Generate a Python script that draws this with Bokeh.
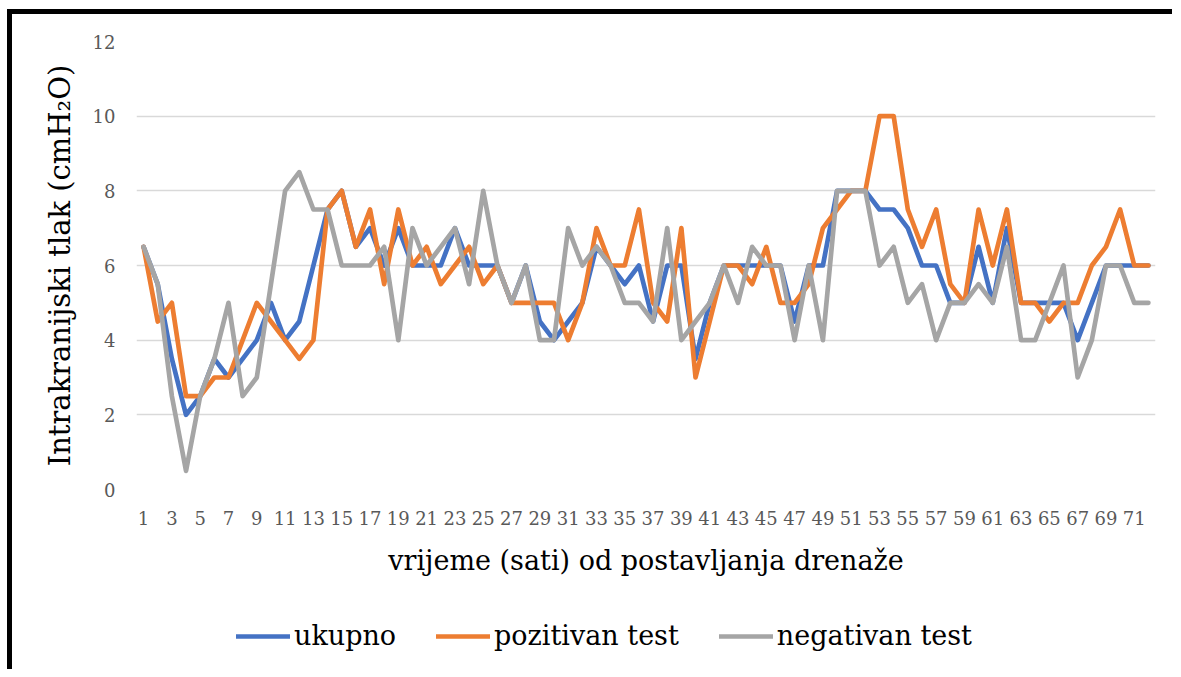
from bokeh.plotting import figure
from bokeh.models import Range1d, FixedTicker, Legend, LegendItem
from bokeh.layouts import column
from bokeh.embed import file_html
from bokeh.resources import INLINE

hours = list(range(1, 73))
ukupno = [6.5, 5.5, 3.5, 2, 2.5, 3.5, 3, 3.5, 4, 5, 4, 4.5, 6, 7.5, 8, 6.5, 7, 6, 7, 6,
          6, 6, 7, 6, 6, 6, 5, 6, 4.5, 4, 4.5, 5, 6.5, 6, 5.5, 6, 4.5, 6, 6, 3.5,
          5, 6, 6, 6, 6, 6, 4.5, 6, 6, 8, 8, 8, 7.5, 7.5, 7, 6, 6, 5, 5, 6.5,
          5, 7, 5, 5, 5, 5, 4, 5, 6, 6, 6, 6]
pozitivan = [6.5, 4.5, 5, 2.5, 2.5, 3, 3, 4, 5, 4.5, 4, 3.5, 4, 7.5, 8, 6.5, 7.5, 5.5, 7.5, 6,
             6.5, 5.5, 6, 6.5, 5.5, 6, 5, 5, 5, 5, 4, 5, 7, 6, 6, 7.5, 5, 4.5, 7, 3,
             4.5, 6, 6, 5.5, 6.5, 5, 5, 5.5, 7, 7.5, 8, 8, 10, 10, 7.5, 6.5, 7.5, 5.5, 5, 7.5,
             6, 7.5, 5, 5, 4.5, 5, 5, 6, 6.5, 7.5, 6, 6]
negativan = [6.5, 5.5, 2.5, 0.5, 2.5, 3.5, 5, 2.5, 3, 5.5, 8, 8.5, 7.5, 7.5, 6, 6, 6, 6.5, 4, 7,
             6, 6.5, 7, 5.5, 8, 6, 5, 6, 4, 4, 7, 6, 6.5, 6, 5, 5, 4.5, 7, 4, 4.5,
             5, 6, 5, 6.5, 6, 6, 4, 6, 4, 8, 8, 8, 6, 6.5, 5, 5.5, 4, 5, 5, 5.5,
             5, 6.5, 4, 4, 5, 6, 3, 4, 6, 6, 5, 5]
x_ticks = list(range(1, 72, 2))
y_ticks = [0, 2, 4, 6, 8, 10, 12]

series_names = ["ukupno", "pozitivan test", "negativan test"]
colors = ["#4472C4", "#ED7D31", "#A5A5A5"]

FONT = "DejaVu Serif"
W = 1165

p = figure(width=W, height=575, output_backend="svg", toolbar_location=None,
           x_range=Range1d(0.5, 72.5), y_range=Range1d(0, 12),
           min_border_left=124, min_border_right=22, min_border_top=27,
           min_border_bottom=100)
p.outline_line_color = None
p.background_fill_color = "white"
p.border_fill_color = "white"

p.xgrid.grid_line_color = None
p.ygrid.grid_line_color = "#D9D9D9"
p.ygrid.grid_line_width = 1.3
p.yaxis.ticker = FixedTicker(ticks=y_ticks)
p.xaxis.ticker = FixedTicker(ticks=x_ticks)

for ax in (p.xaxis[0], p.yaxis[0]):
    ax.axis_line_color = None
    ax.major_tick_line_color = None
    ax.minor_tick_line_color = None
    ax.major_label_text_font = FONT
    ax.major_label_text_font_size = "18px"
    ax.major_label_text_color = "#595959"
    ax.axis_label_text_font = FONT
    ax.axis_label_text_font_style = "normal"
    ax.axis_label_text_color = "black"

p.xaxis.axis_label_text_font_size = "27px"
p.yaxis.axis_label_text_font_size = "29px"
p.yaxis.axis_label = "Intrakranijski tlak (cmH\u2082O)"
p.xaxis.axis_label = "vrijeme (sati) od postavljanja drenaže"
p.yaxis.major_label_standoff = 15
p.yaxis.axis_label_standoff = 13
p.xaxis.major_label_standoff = 15
p.xaxis.axis_label_standoff = 17

for vals, c in zip([ukupno, pozitivan, negativan], colors):
    p.line(hours, vals, line_color=c, line_width=4.7,
           line_join="round", line_cap="round")

# legend strip (separate figure so the legend sits outside the chart frame)
pl = figure(width=W, height=85, output_backend="svg", toolbar_location=None,
            x_range=Range1d(0, 1), y_range=Range1d(0, 1),
            x_axis_type=None, y_axis_type=None,
            min_border_left=0, min_border_right=0, min_border_top=0, min_border_bottom=0)
pl.outline_line_color = None
pl.xgrid.grid_line_color = None
pl.ygrid.grid_line_color = None
nan = float("nan")
keys = []
for c in colors:
    keys.append(pl.line(x=[nan], y=[nan], line_color=c, line_width=4.7,
                        line_join="round", line_cap="round"))

legend = Legend(items=[LegendItem(label=n, renderers=[r]) for n, r in zip(series_names, keys)],
                location=(100, 23), orientation="horizontal",
                glyph_width=54, glyph_height=20, label_standoff=4, spacing=40,
                padding=0, margin=0, border_line_color=None,
                background_fill_alpha=0,
                label_text_font=FONT, label_text_font_size="27px",
                label_text_color="black")
pl.add_layout(legend, "center")

root = column(p, pl, spacing=0,
              styles={"margin-left": "12px", "margin-top": "14px",
                      "box-shadow": "-5px -5px 0px 0px #000000"})

open("out.html", "w").write(file_html(root, INLINE))
